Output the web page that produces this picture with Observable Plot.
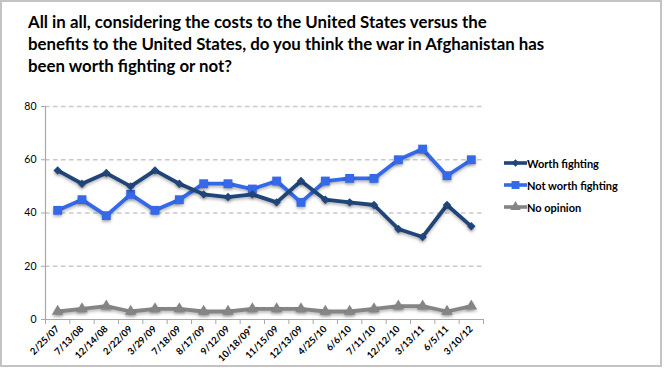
<!DOCTYPE html>
<html><head><meta charset="utf-8">
<script src="https://cdn.jsdelivr.net/npm/d3@7"></script>
<script src="https://cdn.jsdelivr.net/npm/@observablehq/plot@0.6"></script>
<style>
body{margin:0;background:#fff;}
#wrap{position:relative;width:665px;height:368px;overflow:hidden;font-family:Lato,"Open Sans",sans-serif;background:#fff;}
#chart{position:absolute;left:0;top:0;}
#frame{position:absolute;left:0;top:0;width:662px;height:367px;border:2px solid #c3c3c3;box-sizing:border-box;pointer-events:none;}
#title{position:absolute;left:28px;top:11px;font-weight:700;font-size:16px;line-height:22px;color:#000;white-space:nowrap;}
#legend{position:absolute;left:504px;top:152px;font-weight:700;font-size:11px;color:#000;}
#legend .row{display:flex;align-items:center;height:22px;}
#legend svg{display:block;}
svg g[aria-label="line"]{filter:drop-shadow(0px 2px 1.5px rgba(0,0,0,0.28));}
svg g[aria-label="dot"]{filter:drop-shadow(0px 2px 1.5px rgba(0,0,0,0.28));}
</style></head>
<body>
<div id="wrap">
  <div id="chart"></div>
  <div id="title"><span id="t1">All in all, considering the costs to the United States versus the</span><br>benefits to the United States, do you think the war in Afghanistan has<br>been worth fighting or not?</div>
  <div id="legend"></div>
  <div id="frame"></div>
</div>
<script>
const dates = ["2/25/07","7/13/08","12/14/08","2/22/09","3/29/09","7/18/09","8/17/09","9/12/09","10/18/09*","11/15/09","12/13/09","4/25/10","6/6/10","7/11/10","12/12/10","3/13/11","6/5/11","3/10/12"];
const worthFighting = [56,51,55,50,56,51,47,46,47,44,52,45,44,43,34,31,43,35];
const notWorthFighting = [41,45,39,47,41,45,51,51,49,52,44,52,53,53,60,64,54,60];
const noOpinion = [3,4,5,3,4,4,3,3,4,4,4,3,3,4,5,5,3,5];
const seriesNames = ["Worth fighting","Not worth fighting","No opinion"];
const yTicks = [0,20,40,60,80];

const colors = ["#1f4579","#3469ea","#858585"];
const symbols = ["diamond2","square","triangle"];
const radii = [3.8,5.0,4.3];
const values = [worthFighting, notWorthFighting, noOpinion];

const seriesRows = values.map(arr => arr.map((v,i)=>({i, v})));

const marks = [
  Plot.ruleY(yTicks.filter(d=>d>0), {stroke:"#c9c9c9", strokeDasharray:"4.5,3.5", strokeWidth:1.3}),
  Plot.axisY({ticks:yTicks, tickSize:4, tickPadding:5, label:null, fontSize:10.5, stroke:"#a8a8a8", color:"#000"}),
  Plot.ruleX([-0.5], {stroke:"#a8a8a8", strokeWidth:1.2}),
  Plot.ruleY([0], {stroke:"#a8a8a8", strokeWidth:1.2}),
  Plot.axisX({ticks:d3.range(dates.length+1).map(i=>i-0.5), tickFormat:()=>"", tickSize:5, stroke:"#a8a8a8", label:null}),
  Plot.axisX({ticks:d3.range(dates.length), tickFormat:i=>dates[i], tickSize:0, tickPadding:8, tickRotate:-45, fontSize:9.5, fontWeight:"bold", label:null, color:"#000"})
];
[2,1,0].forEach(k=>{
  marks.push(Plot.line(seriesRows[k], {x:"i", y:"v", stroke:colors[k], strokeWidth:3.8, strokeLinejoin:"miter"}));
  marks.push(Plot.dot(seriesRows[k], {x:"i", y:"v", symbol:symbols[k], r:radii[k], fill:colors[k], stroke:"none"}));
});

const chart = Plot.plot({
  width:665, height:368,
  marginLeft:45, marginRight:182, marginTop:106, marginBottom:49,
  x:{type:"linear", domain:[-0.5, dates.length-0.5], axis:null},
  y:{domain:[0,80], axis:null},
  style:{fontFamily:"Lato, sans-serif", background:"transparent", overflow:"visible"},
  marks
});
document.getElementById("chart").appendChild(chart);

const leg = d3.select("#legend");
seriesNames.forEach((name,k)=>{
  const row = leg.append("div").attr("class","row");
  const s = row.append("svg").attr("width",23).attr("height",14);
  s.append("line").attr("x1",0).attr("x2",23).attr("y1",7).attr("y2",7).attr("stroke",colors[k]).attr("stroke-width",3.6);
  s.append("path").attr("transform","translate(11.5,7)").attr("fill",colors[k])
    .attr("d", d3.symbol([d3.symbolDiamond2, d3.symbolSquare, d3.symbolTriangle][k], Math.PI*radii[k]*radii[k]*0.8)());
  row.append("span").text(name);
});

const t1 = document.getElementById("t1");
const w = t1.getBoundingClientRect().width;
const fs = 16*459/w;
document.getElementById("title").style.fontSize = fs.toFixed(2)+"px";
</script>
</body></html>
